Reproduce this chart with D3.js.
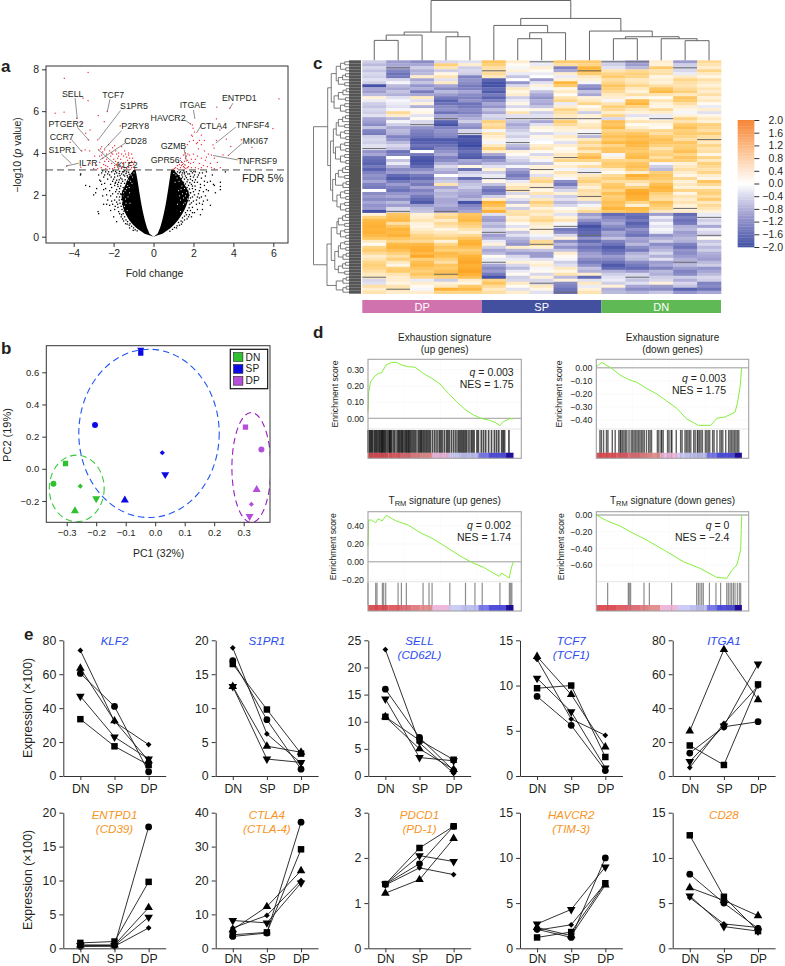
<!DOCTYPE html>
<html><head><meta charset="utf-8">
<script src="https://cdn.jsdelivr.net/npm/d3@7/dist/d3.min.js"></script>
<style>
html,body{margin:0;padding:0;background:#fff}
svg{display:block}
text{font-family:"Liberation Sans",Arial,sans-serif;fill:#231f20}
.domain,.tick line{stroke:#333}
</style></head><body>
<svg id="c" width="785" height="966"></svg>
<script>
const _ = null;
// ---------- panel a: volcano ----------
const fdrLine = 3.19;
const denseY      = [0,.1,.3,.6,1,1.5,2,2.5,3,3.19];
const denseLeftIn = [0,-.15,-.27,-.38,-.49,-.6,-.69,-.77,-.86,-.9];
const denseLeftOut= [0,-.33,-.68,-1.05,-1.35,-1.55,-1.6,-1.4,-1.15,-1.0];
const denseRightIn= [0,.15,.27,.38,.49,.6,.69,.77,.85,.88];
const denseRightOut=[0,.33,.68,1.05,1.38,1.65,1.78,1.55,1.2,1.0];
const gapPoints=[[-1.5,1.95],[-1.42,2.2],[-1.3,2.45],[-1.55,1.7],[-1.25,2.7],[-1.12,2.95],[-1.38,1.6],[-1.32,1.25],[-1.2,2.1],[-1.45,1.45],[-1.28,1.9],[-1.08,2.55],[-.98,3.05],[-1.35,2.3],[-1.18,1.6],[-1.5,2.1],[-1.22,2.35],[-1.05,2.85],[-1.4,1.8],[-1.15,2.65],
[1.6,1.95],[1.7,1.8],[1.5,1.55],[1.55,2.3],[1.42,2.42],[1.28,2.65],[1.12,2.95],[1.65,2.1],[1.35,1.75],[1.45,2.05],[1.25,2.2],[1.08,2.6],[1.35,1.2],[1.5,1.85],[1.2,1.55],[1.38,2.25],[1.02,3.02],[1.18,2.8],[1.58,1.62],[1.3,1.95]];
const blackPoints = [[-2.78,1.2],[-2.75,1.1],[-3,2.0],[-3.4,2.45],[-3.2,2.4],[-2.9,2.1],[-2.85,2.3],[-2.7,2.7],[-2.75,2.95],[-2.6,3.05],[-2.5,2.85],[-2.45,2.55],[-2.4,2.3],[-2.55,1.95],[-2.35,2.0],[-2.3,1.75],[-2.2,1.5],[-2.15,1.25],[-2.0,.95],[-1.85,.72],[-2.3,2.75],[-2.2,2.95],[-2.1,3.1],[-2.25,3.1],[-2.05,2.65],[-1.95,2.85],[-1.85,3.05],[-2.1,2.35],[-1.95,2.45],[-1.9,2.15],[-2.05,2.05],[-1.95,1.75],[-1.85,1.9],[-1.8,1.55],[-2.05,1.55],[-1.95,1.3],[-1.75,1.2],[-1.7,2.3],[-1.75,2.6],[-1.65,2.8],[-1.6,3.0],[-1.7,3.12],[-1.5,3.1],[-1.45,2.9],[-1.55,2.65],[-1.72,1.75],[-1.65,2.05],[-1.45,3.15],[-1.35,3.1],[-1.3,2.85],[-1.9,2.6],[-2.6,2.5],[-3.65,3.0],[-3.66,2.95],[-1.6,1.05],[-1.55,.85],[-1.4,.62],
[-.82,.28],[-.92,.33],[-1.0,.42],[-1.1,.5],[-1.18,.62],[-1.22,.55],[-1.3,.72],[-1.38,.8],[-1.45,.95],[-1.52,1.1],[-1.48,1.22],[-1.58,1.3],[-1.62,1.45],[-1.55,1.55],[-1.68,1.6],[-1.5,1.7],[-1.6,1.78],[-1.7,1.9],[-1.52,1.95],[-1.62,2.02],[-1.78,2.05],[-1.45,2.1],[-1.55,2.18],[-1.72,2.15],[-1.85,2.25],[-1.42,2.3],[-1.52,2.35],[-1.65,2.42],[-1.78,2.4],[-1.35,2.48],[-1.45,2.55],[-1.62,2.55],[-1.8,2.5],[-1.92,2.55],[-1.32,2.62],[-1.42,2.72],[-1.58,2.75],[-1.72,2.72],[-1.85,2.7],[-2.0,2.75],[-1.25,2.78],[-1.32,2.92],[-1.5,2.95],[-1.68,2.92],[-1.8,2.9],[-1.95,3.0],[-2.12,2.85],[-1.22,2.98],[-1.25,3.08],[-1.38,3.02],[-1.55,3.1],[-1.72,3.02],[-1.9,3.12],[-2.02,3.15],[-2.3,3.0],[-2.4,3.1],[-2.55,3.15],[-2.15,2.5],[-2.2,2.2],[-2.15,1.95],[-2.1,1.7],[-1.85,1.65],[-1.92,1.45],[-1.78,1.4],[-1.7,1.1],[-1.62,.95],[-1.5,.75],[-1.32,.6],[-1.2,.42],[-1.02,.3],[-2.45,2.95],[-2.65,2.65],[-2.5,2.25],[-2.35,1.55],[-2.5,1.55],
[1.2,3.1],[1.35,3.1],[1.5,3.15],[1.65,3.1],[1.8,3.0],[1.6,2.9],[1.45,2.85],[1.95,3.05],[2.1,3.1],[2.3,3.05],[2.0,2.85],[1.85,2.75],[2.2,2.85],[2.4,2.8],[2.6,2.9],[2.7,2.6],[2.85,2.65],[3.0,2.5],[3.35,2.6],[3.35,2.4],[3.35,2.25],[3.1,2.1],[3.05,2.45],[2.75,2.2],[2.55,2.45],[2.35,2.5],[2.2,2.6],[2.05,2.6],[1.9,2.5],[2.5,2.15],[2.3,2.2],[2.1,2.25],[1.95,2.3],[1.85,2.1],[2.6,1.95],[2.4,1.9],[2.2,1.9],[2.05,2.0],[2.3,1.6],[2.15,1.55],[2.5,1.7],[2.0,1.7],[1.95,1.4],[2.2,1.3],[2.05,1.15],[1.85,1.25],[1.75,.95],[1.9,.95],[1.55,.8],[1.65,1.05],[1.4,.6],[2.7,1.75],[2.85,1.5],[2.45,1.3],[2.35,1.05],[1.45,3.05],[1.55,3.0],[1.05,3.15],[3.6,3.1],[2.95,2.95],
[.82,.26],[.95,.35],[1.05,.44],[1.18,.52],[1.25,.68],[1.38,.75],[1.45,.9],[1.55,.98],[1.6,1.15],[1.7,1.25],[1.78,1.38],[1.82,1.55],[1.9,1.62],[1.78,1.72],[1.85,1.85],[1.95,1.9],[1.78,1.98],[1.85,2.1],[1.72,2.18],[2,2.15],[1.8,2.28],[1.68,2.35],[1.95,2.42],[1.75,2.45],[1.6,2.52],[1.82,2.58],[2.08,2.42],[1.68,2.62],[1.5,2.6],[1.95,2.68],[2.1,2.72],[1.72,2.72],[1.55,2.75],[1.4,2.78],[1.85,2.88],[1.65,2.82],[1.42,2.95],[1.28,2.92],[2.05,2.95],[2.25,2.95],[1.72,3],[1.55,3.08],[1.3,3.05],[1.88,3.12],[2.02,3.12],[2.45,3.05],[2.65,3.1],[2.55,2.65],[2.35,2.35],[2.65,2.25],[2.25,2.05],[2.45,1.55],[2.3,1.85],[1.95,1.15],[1.8,1.05],[1.68,.85],[1.45,.7],[1.3,.55],[1.15,.42],[2.15,1.75]];
const redPoints = [[-4.47,7.57],[-3.28,7.85],[-4.93,5.9],[-4.48,5.95],[-3.53,6.62],[-3.28,6.5],[-2.32,5.98],[-2.77,5.79],[-3.85,5.66],[-2.47,5.5],[-1.67,5.3],[-3.6,5.42],[-3.4,4.94],[-3.18,5.1],[-3.27,4.63],[-2.8,4.63],[-4.18,4.51],[-3.6,4.11],[-3.43,4.15],[-3.2,4.1],[-4.35,3.38],[-3.65,3.32],[-3.18,3.5],[-2.75,4.15],[-2.65,4.2],[-2.55,4.05],[-2.45,4.15],[-2.35,3.95],[-2.25,4.4],[-2.05,4.25],[-1.95,4.35],[-1.85,3.95],[-1.75,4.0],[-1.6,4.3],[-1.45,4.1],[-1.25,4.0],[-1.1,3.95],[-1.05,3.75],[-1.2,3.75],[-1.35,3.8],[-1.5,3.85],[-1.65,3.7],[-1.8,3.75],[-2,3.7],[-2.15,3.85],[-2.35,3.7],[-2.55,3.75],[-2.7,3.55],[-2.5,3.45],[-2.3,3.35],[-2.1,3.5],[-1.95,3.3],[-1.85,3.45],[-1.7,3.35],[-1.55,3.5],[-1.4,3.55],[-1.3,3.35],[-1.2,3.5],[-1.1,3.3],[-1.0,3.45],[-.95,3.6],[-1.45,3.3],[-1.6,3.25],[-1.75,3.25],[-2.2,3.25],[-2.4,3.25],[-2.62,3.3],[-2.8,3.25],[-2.9,3.4],[-3,3.25],[-1.35,3.25],[-1.15,3.22],[-2.05,3.25],[-2.95,3.85],[-2.2,4.1],[-1.3,3.65],[-.95,3.25],[-2.6,3.9],[-2.45,3.6],[-2.25,3.6],[-1.9,3.6],[-1.75,3.55],[-1.6,3.95],[-1.4,3.95],[-1.1,3.6],[-1.25,3.9],[-2.05,3.95],[-1.9,4.1],[-2.4,3.4],[-1.95,3.4],[-1.55,3.35],[-1.15,3.4],[-1.05,3.55],[-2.7,3.85],[-2.6,4.3],[-2.1,4.0],[-1.75,3.85],
[6.28,6.59],[3.17,6.19],[3.82,6.14],[3.15,5.63],[5.98,5.17],[1.85,5.39],[1.95,5.34],[3.32,5.1],[4.4,4.63],[4.93,4.27],[3.87,4.31],[3.75,3.89],[3.48,3.91],[2.98,4.39],[3.03,4.23],[3.65,4.66],[3.15,4.6],[1.98,5.18],[2.05,5.0],[1.9,4.85],[2.4,4.85],[2.55,4.6],[2.3,4.6],[2.15,4.45],[1.95,4.8],[1.8,4.55],[2.0,4.6],[1.7,4.4],[2.25,4.2],[2.55,4.1],[2.75,3.95],[2.9,3.9],[3.05,3.75],[3.2,3.55],[3.35,3.3],[1.6,4.0],[1.65,3.85],[1.5,3.9],[1.8,3.9],[2,3.95],[2.2,3.85],[2.4,3.75],[2.6,3.65],[1.35,3.75],[1.25,3.55],[1.4,3.55],[1.55,3.6],[1.7,3.65],[1.85,3.5],[2,3.55],[2.3,3.5],[2.5,3.4],[2.7,3.35],[2.9,3.3],[1.1,3.3],[1.2,3.25],[1.35,3.3],[1.5,3.35],[1.62,3.25],[1.75,3.35],[1.9,3.3],[2.1,3.3],[2.25,3.25],[1.05,3.25],[.98,3.22],[1.45,3.45],[1.58,3.42],[3.05,3.25],[2.85,3.5],[1.72,3.95],[1.55,3.3],[1.4,3.4],[1.3,3.45],[1.6,3.75],[1.75,3.55],[1.9,3.7],[1.7,3.3],[1.2,3.4],[2.1,3.7],[2.4,3.3],[2.65,3.8],[2.2,4.5],[2.4,4.4]];
const volcanoLabels = ["SELL","TCF7","S1PR5","P2RY8","CD28","PTGER2","CCR7","S1PR1","IL7R","KLF2","GPR56","GZMB","HAVCR2","ITGAE","CTLA4","ENTPD1","TNFSF4","MKI67","TNFRSF9"];
const labelX = [-4.05,-2.02,-.98,-.92,-.9,-4.38,-4.6,-4.57,-3.27,-1.32,.58,1,.73,1.97,3,4.3,4.97,5.1,5.2];
const labelY = [6.8,6.78,6.24,5.27,4.55,5.39,4.78,4.15,3.51,3.41,3.67,4.35,5.68,6.31,5.31,6.62,5.33,4.58,3.62];
const leaderFromX=[-3.93,-2.18,-1.65,-1.6,-1.43,-3.82,-4.1,-4.62,-3.75,-1.77,1.32,1.53,1.57,2,2.4,3.98,4.12,4.45,4.23];
const leaderFromY=[6.62,6.57,6.03,5.07,4.47,5.23,4.63,3.95,3.51,3.35,3.67,4.18,5.58,6.06,5.34,6.38,5.24,4.47,3.67];
const leaderToX=[-3.82,-2.32,-2.75,-2.48,-2.68,-3.22,-3.6,-4.12,-4.38,-2.77,1.57,1.65,1.85,2.07,2.15,3.82,3.12,3.78,2.98];
const leaderToY=[5.63,5.98,4.66,4.18,3.67,4.59,4.07,3.5,3.38,4.15,3.43,3.59,5.39,5.63,4.95,6.14,4.47,3.91,3.88];
// ---------- panel b: PCA ----------
const pcaShapes = ["square","circle","diamond","invert","triangle"];
const pcaDNx=[-.304,-.345,-.254,-.2,-.272], pcaDNy=[.033,-.093,-.108,-.185,-.261];
const pcaSPx=[-.049,-.204,.024,.034,-.103], pcaSPy=[.72,.272,.1,-.035,-.195];
const pcaDPx=[.306,.36,.326,.32,.344],      pcaDPy=[.259,.12,-.22,-.295,-.129];
const pcaGroups=["DN","SP","DP"];
const pcaColors=["#2fc12f","#0a0ae6","#b44fdc"];
const ellipseColors=["#39c939","#1f55f0","#9a1fc4"];
const ellipseCx=[-.266,-.021,.326], ellipseCy=[-.122,.22,.008], ellipseRx=[.093,.238,.066], ellipseRy=[.207,.523,.342];
// ---------- panel c: heatmap (samples, top to bottom) ----------
const DP1=[-.5,-.7,-.4,-.6,-.4,-.5,-.3,-.5,-1.9,-.9,-1,-.7,.3,-.2,-.5,-.6,-.4,-.5,-.3,-.9,-1,-1.2,-.6,-1.3,-1.4,-.5,-.4,-.5,-.3,_,-1.1,-.9,-1.5,-1.6,-1.7,-1.4,-1.7,-1.3,-1.1,-1.2,-.9,-1.3,-1.4,0,-1.2,-1,-1.2,-.9,-1.1,-1,-1.9,.3,1,1.4,1.5,1.6,1.5,1.6,1.4,1.2,.5,.1,.9,1.1,.8,.4,.6,.9,1,.9,.7,.5,_,-.4,-.3,.7,.4,.6];
const DP2=[-1,-.9,_,-1.3,-1.5,-1.4,-.4,-.1,-.7,-.9,-.6,-.8,-.3,-.1,-.2,-.3,-.1,.8,.4,-.7,-.1,-.5,-.9,-.7,-.8,-1.3,-1.1,-.7,-.4,-.6,-1.5,-1.3,0,-.6,-.2,-.8,-1.2,-1,-1.6,-1.8,-1.4,-1,-1.3,-1.5,-1.1,-.9,-1.2,-.7,-1,-.4,_,1.2,1.3,1.4,.7,1.2,1.5,1.4,1.6,1.2,.9,1.4,1.5,1.3,1,.7,1,.5,.2,1,1.1,.6,.4,.4,.2,.6,_,.4];
const DP3=[-1.2,-.9,-.5,-.8,-.7,.4,-.9,-.6,-1.1,-.8,-1.4,-.9,.5,-.3,.3,-.8,.1,.2,-.3,.1,-.4,_,-1.1,-1.3,-1.4,-1.5,-1.8,-1.7,-1.5,-1.7,0,-1.4,-1.8,-1.9,-1.8,-1.6,-1.2,-.9,-1.4,-1.6,-1.2,-1.4,-.9,-1.3,-1.1,-1.4,-1.6,-1.8,-1,-.7,-.6,.3,.4,.6,.3,.2,.4,.6,.9,1,.8,1.4,1.6,1.7,1.4,1.8,1,1.3,1.4,1.2,1,1.2,.9,-.2,.4,.1,-.1,.4];
const DP4=[-.4,1,.6,-.5,.2,.6,-.3,.5,-.9,-1.2,-.7,-1,-1.4,-1.7,-1.5,-1.2,-1.1,-1.5,-.9,_,-1.7,-1.9,-1.3,-1.1,-1.2,-1.3,-1.8,-1.7,-1.5,-1.3,-1.1,-.9,-1.3,-1.2,-.8,-.4,-.7,-.9,0,-.7,-.5,.6,-.9,-.6,-.8,-.7,-.9,-.9,-.8,-1,_,.7,.9,.4,.8,.6,.2,.5,.7,1,.3,.9,1.2,1,1.4,1.3,1,.7,1.2,1.1,1.3,_,1,-.5,.3,.5,1.6,.9];
const DP5=[-.3,.4,-.5,-.4,-.5,-1.3,-1.1,-1.2,-1.4,-1.3,-.9,-1.2,-1.3,-1.1,-1.5,-1.4,-1.2,-1.3,-1,-.8,-.5,-1,-1.2,-.4,_,-1.9,-1.8,-1.9,-2,-1.7,-1.5,-1.7,-1.8,-.9,-1,.2,-1.5,-.5,-.3,-1.6,-.8,-.6,-.5,-.8,-.9,-1,-.7,-1.9,-1.3,-1.1,-.9,1.2,1.3,1.4,1.1,.9,.6,.3,.8,1.2,1.5,1.6,1.3,1,1.2,1.5,1.7,1.8,1.6,1.7,1.9,1.6,1.3,.4,.2,1.1,1.4,.9];
const SP1=[1.2,1,.7,_,.8,.5,-1.7,-1.9,-1.9,-1.6,-1.8,-1.4,-1.7,-1.3,-.9,-1.1,-.6,-.9,-.4,-.5,1,.7,.9,-.1,.6,.4,.2,-.1,.5,1,.4,-.9,-1.4,-1.1,-.7,-.3,.3,-.5,-.2,_,.2,-.6,-1.2,-1.5,-1.3,-.5,.4,1.5,1.3,.9,1.6,-.3,-.9,-1,-.6,-.8,-.4,_,-1,-.8,-.2,.3,-.5,-.9,-.7,.1,-.2,_,-.9,-1.2,-1,-1.4,-1.9,.9,1.2,.8,.5,.7];
const SP2=[.4,.1,-.1,.3,-.2,-.6,0,-1.1,-.4,.5,.2,.4,-.5,-.2,.2,-.4,.1,.6,-.3,_,-.6,-.9,-.7,-.5,-.3,-.5,-.2,_,-.7,-.9,.3,.1,-.3,-.5,-.7,-.1,-.9,-1.2,-1.4,-1.1,-.2,.3,.6,_,-.4,.2,-.3,-.7,.2,-.5,.6,.7,.3,.5,.1,-.3,.2,-.6,-.3,-.7,-.9,-1.1,.4,-.7,-1,-.4,-.2,.3,-.4,-.7,-.2,.1,-.5,-.4,.5,.1,-.3,.4];
const SP3=[_,-.2,.4,.1,-.2,0,-1,-.3,.3,-.1,-.6,-.9,-1.1,-.8,-.9,-.6,.2,-.5,-.3,_,-.9,-.3,.3,.1,-.4,.2,-.1,0,.4,.6,.1,-.4,.3,-.1,-.6,.3,_,.2,-.3,.7,.9,.4,_,.2,.6,-.3,.5,1,.7,.3,.6,.4,.7,.9,.5,.3,_,.3,-.1,-.3,.8,_,.3,-.6,-1,-1,-.3,.2,.4,-.1,.1,-.4,.3,-.4,_,.5,.2,-.3];
const SP4=[1.1,.7,-1.3,-.9,.4,-.2,.3,1.5,1.1,.2,.5,.1,.6,.9,-.2,.4,.9,.7,.5,_,1.1,.8,.4,.3,-.2,.5,.2,-.3,.4,.1,.2,.5,_,.9,.2,.4,-.1,.6,.3,-.1,-1.2,-1.4,-.8,-.4,.3,-.5,-.3,-.7,-.4,.1,.3,-.3,.3,.6,-.1,_,-1.4,-1.2,-.4,.3,-1.2,-.7,-1.1,-.6,.4,.1,-.1,-.5,-.3,.5,.2,.6,-.7,.3,-1.2,-1.3,-1.5,_];
const SP5=[1.1,.9,1.5,_,1.1,.5,.3,-.1,-1.1,-1.3,-.6,-.9,.3,.5,.9,.1,.4,-.5,.3,_,.2,.5,.6,-.1,_,-.7,.5,.9,.6,1,.5,1.1,1.4,.9,.2,.7,-.2,_,.5,.8,1,.6,.3,.7,.6,_,.5,-.5,-.1,.4,.8,-1,-.7,-1.1,-1.5,-1.9,-1.7,-1.6,_,-1.1,-1.6,-1.2,-1.5,-1.3,-1,-.9,-1.2,-1.4,-1.1,-.6,-.8,.4,-1.6,-.3,.5,-.2,.3,.6];
const DN1=[_,-.5,-.3,.6,.9,1.1,.7,.9,1.2,1,.8,.5,.4,-.1,.6,1,.8,.4,.9,-.4,1.3,1.2,1.4,.9,1.1,1.3,1.1,1.4,.9,1.2,1.2,-.1,.3,.9,1.1,1,.4,.1,.8,1,.7,1.1,1.2,.9,1.3,1,1.1,1.3,1.2,1.5,1.1,-1.6,-1.3,-1.1,-.9,-1.2,-1.4,-.9,-1,-.6,-1.3,-1.5,-1.8,-1.6,-1.4,-1,-1.2,-1.5,-1.8,-1.6,-.8,-.5,-.3,-.2,-.5,.3,-.8,-.7];
const DN2=[_,-1,-.7,.8,1,.9,.5,.6,.9,.5,.3,.7,.2,1.3,1.5,.9,.5,.3,-.3,.2,.6,.1,.4,.8,1.2,1.4,1.3,1.5,1.4,1.2,1.1,1.3,1.4,.9,1.2,1.3,1.1,.4,1.6,1.3,.7,.4,1,1.7,1.8,1.6,1.5,.9,.3,1.4,1.3,-1.5,-1.6,-1.4,-1.7,-1.5,-1.1,-1.3,-1.5,-.9,-1,-.7,-1.2,-1.4,-.8,-.6,-.7,-1.2,-1.4,-1.6,-1,-.4,_,-.6,-.3,-.9,-1.2,-.8];
const DN3=[.4,.3,1.1,.6,.7,.2,.4,.3,.7,1.2,1.4,.6,.1,.6,.3,.2,.8,.4,-.2,_,.5,.2,.1,.9,.7,1.1,1.3,1.2,1,.6,.9,1,.7,1.1,-.1,-.5,-.7,1,1.2,1.1,.9,1.3,1.5,1.4,1,.8,.7,1.3,1.1,.9,.5,-1,-.2,-.5,-.1,-.3,-.1,-.2,-1.1,-.8,-.5,-1.2,-.9,-.7,-.4,-.8,-.3,-1,-.9,-1.3,-.7,-.8,-.5,-.4,.3,-1,-1.2,-.6];
const DN4=[-1,-.5,_,-.4,-.2,.5,.9,.7,.6,.8,1,.5,1.2,1.1,.7,.4,.2,-.1,.3,.9,.6,1.1,1.3,1,1.1,.9,.7,1.2,1,1.1,1.3,.9,1.2,1,.3,.5,.7,.4,.2,.8,.3,.5,.3,.9,.2,.6,.4,.6,.3,_,.4,-1.6,-1.3,-1.5,-1.4,-.8,-.7,-1,-.9,-.7,-.8,-1.3,-1.5,-1.1,-1.2,-1,-.8,_,-.7,-1,-1.3,-1.2,-.5,-.8,-.4,-.6,-1.7,-1.1];
const DN5=[.8,.6,.4,.9,.5,.2,.7,.5,.3,.6,.4,.7,.3,.5,.1,-.2,.4,-.3,.2,.5,.3,1,.9,.7,1.1,.7,_,.5,.9,.6,.7,.2,.9,.5,1,.8,.6,.9,.4,.2,1.2,.8,.3,.9,1,.7,1.1,.5,.8,.6,.3,-.2,_,-.5,-.3,-.9,-.2,-.4,_,.1,-.6,-.4,-.7,-.5,-.8,-.9,-1,-.7,-.5,-1.1,-.9,-.7,-.4,-.5,-1.3,-1.2,-1.5,-.9];
const heatSamples=[DP1,DP2,DP3,DP4,DP5,SP1,SP2,SP3,SP4,SP5,DN1,DN2,DN3,DN4,DN5];
const heatGroups=["DP","SP","DN"];
const heatGroupColors=["#d072ae","#42509f","#5fba55"];
const colorTicks=[2,1.6,1.2,.8,.4,0,-.4,-.8,-1.2,-1.6,-2];
const colTree=[1,[.472,[.422,[.333,0,0],0],[.394,0,0]],[.7,[.583,0,[.461,[.361,0,0],0]],[.489,0,[.394,[.361,0,0],[.361,0,[.328,0,0]]]]]];
const p2=[.1,0,0],p3=[.17,[.08,0,0],0],p4=[.24,[.12,0,0],[.09,0,0]],p5=[.3,[.18,[.1,0,0],0],[.12,0,0]];
const rowTree=[1,[.6,[.5,[.36,p4,p5],[.42,[.3,p3,p2],p4]],[.52,[.44,[.36,p5,p4],[.38,p4,p4]],[.46,[.38,p5,p3],[.34,p4,p4]]]],[.62,[.5,[.34,p5,p4],[.4,[.3,p4,p3],p5]],[.36,p3,p3]]];
// ---------- panel d: GSEA ----------
const gseaRank1=[0,.5,1.8,4.8,7.1,9.4,12.4,16.3,19.7,23.2,27.8,32.3,38.1,43.8,49.5,55.3,61,66.7,72.5,78.2,82.8,87.4,90.8,93.1,95.9,97.7,100];
const gseaES1=[.04,.164,.226,.261,.277,.281,.329,.345,.345,.329,.318,.316,.277,.247,.212,.154,.103,.055,.021,-.002,-.01,-.025,-.045,-.021,-.01,-.002,-.004];
const gseaRank2=[0,1.4,3.7,5.96,10.6,16.3,22,27.8,34.6,41.5,48.4,55.3,62.2,70.2,78.7,82.8,88.5,95.4,97,98.9,100];
const gseaES2=[.008,.02,.04,.025,-.005,-.056,-.089,-.112,-.158,-.2,-.255,-.31,-.392,-.441,-.441,-.387,-.377,-.341,-.273,-.145,0];
const gseaRank3=[0,.5,2.3,5.3,6.9,9.7,12.6,19.5,27.6,36.8,44.8,54,63.2,72.4,79.3,85.1,90.3,92,97.2,98.6,100];
const gseaES3=[.17,.467,.467,.437,.481,.456,.519,.456,.411,.319,.256,.163,.067,-.015,-.059,-.115,-.163,-.126,-.181,-.07,0];
const gseaRank4=[0,7.1,16.3,23.2,34.6,48.4,59.9,71.3,82.8,89.7,93.1,96.6,99.3,100];
const gseaES4=[0,-.068,-.132,-.2,-.3,-.44,-.56,-.64,-.748,-.76,-.668,-.6,-.42,0];
const gseaHits1=[0,1,1.6,2.5,3,4.2,5,5.8,6.5,7.5,8.2,9,9.6,10.2,10.8,11.6,12.4,13.5,14.5,15,15.6,16.3,17.5,18.5,20,21,21.6,22.5,23.3,24,25,26,26.6,27.5,28.2,29,30,31,32,33,34.5,35.5,36.3,37,38,39,40,41,42,43,44.5,46,47.5,49,50,51,52.5,54,55,56,57.5,59,60.5,62,63,64,65,66,67,68,69.5,71,72,73,75,76,78,79.5,81,83,85,87,88.5,90,92,93,94,97];
const gseaHits2=[2.5,3.5,5,7,8,11,13,15.5,16.5,17,18,19,20,21,22.5,24,25,26,27,28,29,30,31,32,33,34.5,36,37,38,42,43,44.5,45,46,49,50,51.5,52,55,58,59,61,62,63,64,65,67,68,69.5,70,71,72,73,75,76,77,78,80,81,83,85,86,87,89,91,92,93,94,95,96,97,98];
const gseaHits3=[0,5.3,6.2,9.9,10.8,12.2,20.7,23,26.4,37.9,42,44.1,56.3,67.1,73.6,78.6,90.8,97.3,98.2,99];
const gseaHits4=[7.8,22,22.7,23.6,32.8,36.5,51.8,69,70.2,71.3,72.5,73.6,77.8,82.3,85.5,89.7,90.8,92,93.1,94.3,95.4,97,98.4,99.3];
const bandEdges=[0,14,22,30,36,44,56,64,76,83,95,100];
const bandColors=["#dd5158","#e05e66","#df6f78","#e08182","#e49090","#ecb8dc","#ccccf6","#c0c0f0","#7a7aea","#5050dc","#200f9e"];
const gseaTicks1=[.3,.2,.1,0],gseaTicks2=[0,-.1,-.2,-.3,-.4],gseaTicks3=[.4,.2,0,-.2],gseaTicks4=[0,-.2,-.4,-.6];
// ---------- panel e: expression ----------
const exprSamples=["DN","SP","DP"];
const shapes=["circle","square","triangle","invert","diamond"];
const geneNames=[["KLF2"],["S1PR1"],["SELL","(CD62L)"],["TCF7","(TCF1)"],["ITGA1"],["ENTPD1","(CD39)"],["CTLA4","(CTLA-4)"],["PDCD1","(PD-1)"],["HAVCR2","(TIM-3)"],["CD28"]];
const geneMax=[80,20,25,15,80,20,40,3,15,15];
const geneTicks=[[0,20,40,60,80],[0,5,10,15,20],[0,5,10,15,20,25],[0,5,10,15],[0,20,40,60,80],[0,5,10,15,20],[0,10,20,30,40],[0,1,2,3],[0,5,10,15],[0,5,10,15]];
const KLF2=[[60.5,41,2.5],[33.5,17.5,6.5],[63.5,32.5,9],[47,23,10],[74,32,18.5]];
const S1PR1=[[17,8.3,1],[16.5,9.8,3.3],[13.2,4.4,3.5],[13.2,2.5,2],[18.9,6.2,1.9]];
const SELL=[[16,7.1,1],[10.9,6.6,3],[10.9,5,1.2],[14.2,3.4,2.8],[23.3,6.1,.5]];
const TCF7=[[8.8,5.6,.6],[9.7,10,2.1],[13.2,9,3.2],[10.8,7.1,.9],[12.9,6.3,4.5]];
const ITGA1=[[13.5,29,32],[18,6.5,54],[26.5,74.5,45],[8.5,29.5,66],[5,31,53]];
const ENTPD1=[[.3,.4,17.9],[.8,1,9.8],[.5,.5,6],[.4,.4,4.6],[.3,.3,3]];
const CTLA4=[[3.5,4.5,37.2],[4,4.7,29.2],[5.5,12.3,22.9],[8.2,7.5,19.3],[6,9.7,20]];
const PDCD1=[[1.42,1.87,2.7],[1.42,2.22,2.7],[1.22,1.52,2.43],[1.42,2.05,1.92],[1.4,1.78,1.63]];
const HAVCR2=[[2.1,1.2,10],[1.2,1.8,7.2],[2.3,1.4,7],[2.7,4.3,9],[2,2.6,7.2]];
const CD28=[[8.2,5,2.2],[12.5,5.7,1.9],[6.7,5.3,3.6],[5.8,2.4,1.9],[5.6,2.7,2.3]];
const geneData=[KLF2,S1PR1,SELL,TCF7,ITGA1,ENTPD1,CTLA4,PDCD1,HAVCR2,CD28];

const svg=d3.select("#c");
function label(t,x,y,o={}){
  const s=svg.append("text").attr("x",x).attr("y",y).attr("font-size",o.size||11)
    .attr("text-anchor",o.anchor||"middle").attr("dominant-baseline","central").text(t);
  if(o.rotate) s.attr("transform",`rotate(-90 ${x} ${y})`);
  if(o.weight) s.attr("font-weight",o.weight);
  if(o.italic) s.attr("font-style","italic");
  if(o.fill) s.style("fill",o.fill);
  return s;
}
function symbolPath(name,size){
  const type={circle:d3.symbolCircle,square:d3.symbolSquare,triangle:d3.symbolTriangle,invert:d3.symbolTriangle,diamond:d3.symbolDiamond2}[name];
  return d3.symbol().type(type).size(size)();
}
function placeSym(sel,name,x,y,size,fill){
  sel.append("path").attr("d",symbolPath(name,size)).attr("fill",fill)
   .attr("transform",`translate(${x},${y})${name==="invert"?" rotate(180)":""}`);
}
[["a",1,66],["b",1,348],["c",313,63],["d",313,332],["e",24,634]].forEach(d=>label(d[0],d[1],d[2],{size:17,weight:"bold",anchor:"start"}));

// ---- panel a
(function(){
  const L=46,R=288,T=66,B=243;
  const x=d3.scaleLinear().domain([-4,6]).range([73.7,273.3]);
  const y=d3.scaleLinear().domain([0,8]).range([236.7,69.3]);
  const g=svg.append("g");
  const dense=d3.range(denseY.length);
  const lArea=d3.area().x0(i=>x(denseLeftOut[i])).x1(i=>x(denseLeftIn[i])).y(i=>y(denseY[i])).curve(d3.curveMonotoneY);
  const rArea=d3.area().x0(i=>x(denseRightIn[i])).x1(i=>x(denseRightOut[i])).y(i=>y(denseY[i])).curve(d3.curveMonotoneY);
  g.append("path").attr("d",lArea(dense)).attr("fill","#000");
  g.append("path").attr("d",rArea(dense)).attr("fill","#000");
  g.selectAll(".gp").data(gapPoints).join("rect").attr("x",d=>x(d[0])-.5).attr("y",d=>y(d[1])-.5).attr("width",1).attr("height",1).attr("fill","#fff");
  g.selectAll(".bp").data(blackPoints).join("rect").attr("x",d=>x(d[0])-.65).attr("y",d=>y(d[1])-.65).attr("width",1.3).attr("height",1.3).attr("fill","#000");
  g.selectAll(".rp").data(redPoints).join("rect").attr("x",d=>x(d[0])-.6).attr("y",d=>y(d[1])-.6).attr("width",1.2).attr("height",1.2).attr("fill","#f0303a");
  g.append("line").attr("x1",L).attr("x2",R).attr("y1",y(fdrLine)).attr("y2",y(fdrLine)).attr("stroke","#333").attr("stroke-width",.9).attr("stroke-dasharray","7 4");
  volcanoLabels.forEach((t,i)=>{
    g.append("line").attr("x1",x(leaderFromX[i])).attr("y1",y(leaderFromY[i])).attr("x2",x(leaderToX[i])).attr("y2",y(leaderToY[i])).attr("stroke","#444").attr("stroke-width",.6);
    label(t,x(labelX[i]),y(labelY[i]),{size:8.8});
  });
  label("FDR 5%",x(5.47),y(2.8),{size:11});
  svg.append("rect").attr("x",L).attr("y",T).attr("width",R-L).attr("height",B-T).attr("fill","none").attr("stroke","#333");
  const ax=svg.append("g").attr("transform",`translate(0,${B})`).call(d3.axisBottom(x).tickValues([-4,-2,0,2,4,6]).tickSize(4).tickSizeOuter(0));
  const ay=svg.append("g").attr("transform",`translate(${L},0)`).call(d3.axisLeft(y).tickValues([0,2,4,6,8]).tickSize(4).tickSizeOuter(0));
  [ax,ay].forEach(a=>{a.select(".domain").remove();a.selectAll("text").attr("font-size",10.5).style("font-family","Liberation Sans");});
  label("Fold change",x(0)+1,273,{size:10.5});
  const yl=label("",17,155,{size:10.5,rotate:true});
  yl.append("tspan").text("−log10 (");yl.append("tspan").attr("font-style","italic").text("p");yl.append("tspan").text(" value)");
})();

// ---- panel b
(function(){
  const L=46.3,R=270,T=345.7,B=522.3;
  const x=d3.scaleLinear().domain([-.3,.3]).range([66.7,243.7]);
  const y=d3.scaleLinear().domain([-.2,.6]).range([501,372.3]);
  svg.append("clipPath").attr("id","pc").append("rect").attr("x",L).attr("y",T).attr("width",R-L).attr("height",B-T);
  const g=svg.append("g").attr("clip-path","url(#pc)");
  pcaGroups.forEach((n,i)=>{
    g.append("ellipse").attr("cx",x(ellipseCx[i])).attr("cy",y(ellipseCy[i]))
     .attr("rx",x(ellipseRx[i])-x(0)).attr("ry",y(0)-y(ellipseRy[i]))
     .attr("fill","none").attr("stroke",ellipseColors[i]).attr("stroke-width",1.1).attr("stroke-dasharray","6.5 4");
  });
  [[pcaDNx,pcaDNy],[pcaSPx,pcaSPy],[pcaDPx,pcaDPy]].forEach((s,i)=>{
    pcaShapes.forEach((sh,j)=>placeSym(g,sh,x(s[0][j]),y(s[1][j]),sh==="diamond"?17:28,pcaColors[i]));
  });
  placeSym(g,"invert",x(-.049),y(.74),22,pcaColors[1]);
  svg.append("rect").attr("x",L).attr("y",T).attr("width",R-L).attr("height",B-T).attr("fill","none").attr("stroke","#333");
  const ax=svg.append("g").attr("transform",`translate(0,${B})`).call(d3.axisBottom(x).tickValues([-.3,-.2,-.1,0,.1,.2,.3]).tickFormat(d3.format(".1f")).tickSize(4).tickSizeOuter(0));
  const ay=svg.append("g").attr("transform",`translate(${L},0)`).call(d3.axisLeft(y).tickValues([-.2,0,.2,.4,.6]).tickFormat(d3.format(".1f")).tickSize(4).tickSizeOuter(0));
  [ax,ay].forEach(a=>{a.select(".domain").remove();a.selectAll("text").attr("font-size",9.5).style("font-family","Liberation Sans");});
  label("PC1 (32%)",158.7,552.7,{size:10.5});
  label("PC2 (19%)",7,435,{size:11,rotate:true});
  const lg=svg.append("g");
  lg.append("rect").attr("x",230.3).attr("y",349.3).attr("width",37.4).attr("height",39.4).attr("fill","#fff").attr("stroke","#111").attr("stroke-width",1.2);
  pcaGroups.forEach((n,i)=>{
    const cy=357+i*11.9;
    lg.append("rect").attr("x",233.5).attr("y",cy-4.4).attr("width",9.4).attr("height",8.8).attr("fill",pcaColors[i]).attr("stroke","#222").attr("stroke-width",.6);
    label(n,245.6,cy,{size:10.2,anchor:"start"});
  });
})();

// ---- panel c
(function(){
  const L=362.3,R=721,T=60.3,B=293.7;
  const color=d3.scaleLinear().domain([-2,-1,0,.5,1,1.5,2]).range(["#3c4aa2","#9d9ccf","#ffffff","#ffe9c0","#ffd07a","#feb53a","#fca020"]);
  const barColor=d3.scaleLinear().domain([-2,-1,0,1,2]).range(["#3f4fa3","#9d9ccf","#ffffff","#fdc594","#f58232"]);
  const nRows=heatSamples[0].length;
  const x=d3.scaleBand().domain(d3.range(heatSamples.length)).range([L,R]);
  const y=d3.scaleBand().domain(d3.range(nRows)).range([T,B]);
  const g=svg.append("g");
  heatSamples.forEach((col,c)=>{
    col.forEach((v,r)=>{
      const near=v===null?(r>0&&col[r-1]!==null?col[r-1]:(col[r+1]===null?0:col[r+1])):v;
      g.append("rect").attr("x",x(c)).attr("y",y(r)).attr("width",x.bandwidth()+.3).attr("height",y.bandwidth()+.3).attr("fill",color(near));
      if(v===null) g.append("rect").attr("x",x(c)).attr("y",y(r)+y.bandwidth()*.33).attr("width",x.bandwidth()+.3).attr("height",1).attr("fill","#6b6b6b");
    });
  });
  // column dendrogram
  const h=d3.scaleLinear().domain([0,1]).range([60.3,.5]);
  const rootC=d3.hierarchy(colTree,d=>Array.isArray(d)?d.slice(1):null);
  rootC.leaves().forEach((l,i)=>{l.px=x(i)+x.bandwidth()/2;});
  rootC.eachAfter(n=>{n.ph=Array.isArray(n.data)?n.data[0]:0;if(n.children)n.px=d3.mean(n.children,c=>c.px);});
  const tg=svg.append("g").attr("fill","none").attr("stroke","#555").attr("stroke-width",.9);
  rootC.descendants().filter(n=>n.children).forEach(n=>{
    const pa=d3.path();
    const [a,b]=n.children;
    pa.moveTo(a.px,h(a.ph));pa.lineTo(a.px,h(n.ph));pa.lineTo(b.px,h(n.ph));pa.lineTo(b.px,h(b.ph));
    tg.append("path").attr("d",pa.toString());
  });
  // row dendrogram
  const hr=d3.scaleLinear().domain([0,1]).range([349,313.5]);
  const rootR=d3.hierarchy(rowTree,d=>Array.isArray(d)?d.slice(1):null);
  rootR.leaves().forEach((l,i)=>{l.py=y(i)+y.bandwidth()/2;});
  rootR.eachAfter(n=>{n.ph=Array.isArray(n.data)?n.data[0]:0;if(n.children)n.py=d3.mean(n.children,c=>c.py);});
  const rg=svg.append("g").attr("fill","none").attr("stroke","#666").attr("stroke-width",.85);
  rootR.descendants().filter(n=>n.children).forEach(n=>{
    const pa=d3.path();
    const [a,b]=n.children;
    pa.moveTo(hr(a.ph),a.py);pa.lineTo(hr(n.ph),a.py);pa.lineTo(hr(n.ph),b.py);pa.lineTo(hr(b.ph),b.py);
    rg.append("path").attr("d",pa.toString());
  });
  rootR.leaves().forEach(l=>{
    rg.append("line").attr("x1",hr(0)).attr("x2",361).attr("y1",l.py).attr("y2",l.py).attr("stroke","#555").attr("stroke-width",2.99);
  });
  // annotation
  heatGroups.forEach((n,i)=>{
    const x0=x(i*5),x1=i===2?R:x((i+1)*5);
    svg.append("rect").attr("x",x0).attr("y",300).attr("width",x1-x0).attr("height",13).attr("fill",heatGroupColors[i]);
    label(n,(x0+x1)/2,306.7,{size:11,fill:"#fff"});
  });
  // colour bar
  const cy=d3.scaleLinear().domain([2,-2]).range([120,247]);
  const cb=svg.append("g");
  d3.range(-2,2,.05).forEach(v=>{
    cb.append("rect").attr("x",737.7).attr("y",cy(v+.05)).attr("width",16.6).attr("height",cy(v)-cy(v+.05)+.3).attr("fill",barColor(v+.025));
  });
  const ac=svg.append("g").attr("transform","translate(754.3,0)").call(d3.axisRight(cy).tickValues(colorTicks).tickFormat(d3.format(".1f")).tickSize(5).tickSizeOuter(0));
  ac.select(".domain").remove();
  ac.selectAll("text").attr("font-size",10.5).attr("text-anchor","end").attr("x",28.7).style("font-family","Liberation Sans");
})();

// ---- panel d
(function(){
  const configs=[
    {L:368,R:521.3,bandEnd:513.3,T:359.3,sep:429,barEnd:452.7,B:458.3,rank:gseaRank1,es:gseaES1,hits:gseaHits1,ticks:gseaTicks1,d:[0,.3],r:[418.3,369.7],op:.7,bw:1.7,labX:335,labY:394,q:"0.003",nes:"1.75",qx:513.7,qy:372,line:"#888"},
    {L:596.3,R:748.7,bandEnd:741.7,T:359.3,sep:429,barEnd:452.7,B:458.3,rank:gseaRank2,es:gseaES2,hits:gseaHits2,ticks:gseaTicks2,d:[-.4,0],r:[420,367.7],op:.62,bw:1.4,labX:559,labY:394,q:"0.003",nes:"1.75",qx:726,qy:378,line:"#bbb"},
    {L:368,R:521.3,bandEnd:513.3,T:511.7,sep:581.7,barEnd:605,B:611,rank:gseaRank3,es:gseaES3,hits:gseaHits3,ticks:gseaTicks3,d:[-.2,.4],r:[579.7,526],op:.45,bw:1.2,labX:332.7,labY:546.7,q:"0.002",nes:"1.74",qx:511,qy:525,line:"#888"},
    {L:596.3,R:748.7,bandEnd:741.7,T:511.7,sep:581.7,barEnd:605,B:611,rank:gseaRank4,es:gseaES4,hits:gseaHits4,ticks:gseaTicks4,d:[-.6,0],r:[565,515],op:.45,bw:1.2,labX:561,labY:546.7,q:"0",nes:"−2.4",qx:729.3,qy:525,line:"#777"}
  ];
  configs.forEach(c=>{
    const x=d3.scaleLinear().domain([0,100]).range([c.L,c.bandEnd]);
    const y=d3.scaleLinear().domain(c.d).range(c.r);
    const g=svg.append("g");
    c.ticks.forEach(t=>g.append("line").attr("x1",c.L).attr("x2",c.R).attr("y1",y(t)).attr("y2",y(t)).attr("stroke","#e8e8e8").attr("stroke-width",.5).attr("stroke-dasharray","1 1"));
    [25,50,75].forEach(t=>g.append("line").attr("x1",x(t)).attr("x2",x(t)).attr("y1",c.T).attr("y2",c.sep).attr("stroke","#eee").attr("stroke-width",.5).attr("stroke-dasharray","1 1"));
    bandColors.forEach((col,i)=>{
      g.append("rect").attr("x",x(bandEdges[i])).attr("y",c.barEnd).attr("width",x(bandEdges[i+1])-x(bandEdges[i])+.2).attr("height",c.B-c.barEnd).attr("fill",col);
    });
    g.selectAll(".hit").data(c.hits).join("line").attr("x1",d=>x(d)).attr("x2",d=>x(d)).attr("y1",c.sep+1).attr("y2",c.barEnd).attr("stroke","#000").attr("stroke-width",c.bw).attr("stroke-opacity",c.op);
    g.selectAll(".hit2").data(c.hits).join("line").attr("x1",d=>x(d)).attr("x2",d=>x(d)).attr("y1",c.barEnd).attr("y2",c.B).attr("stroke","#000").attr("stroke-width",1).attr("stroke-opacity",.1);
    g.append("line").attr("x1",c.L).attr("x2",c.R).attr("y1",y(0)).attr("y2",y(0)).attr("stroke",c.line).attr("stroke-width",c.line==="#bbb"?1.5:.8);
    g.append("line").attr("x1",c.L).attr("x2",c.R).attr("y1",c.sep).attr("y2",c.sep).attr("stroke","#ddd").attr("stroke-width",.8);
    const line=d3.line().x((d,i)=>x(c.rank[i])).y(d=>y(d));
    g.append("path").attr("d",line(c.es)).attr("fill","none").attr("stroke","#86ef3c").attr("stroke-width",1);
    g.append("rect").attr("x",c.L).attr("y",c.T).attr("width",c.R-c.L).attr("height",c.B-c.T).attr("fill","none").attr("stroke","#a3a3a3").attr("stroke-width",1.1);
    const ay=svg.append("g").attr("transform",`translate(${c.L},0)`).call(d3.axisLeft(y).tickValues(c.ticks).tickFormat(d3.format(".2f")).tickSize(0).tickPadding(4));
    ay.select(".domain").remove();
    ay.selectAll("text").attr("font-size",8.8).style("font-family","Liberation Sans");
    label("Enrichment score",c.labX,c.labY,{size:8.6,rotate:true});
    const q=label("",c.qx,c.qy,{size:10.5,anchor:"end"});
    q.append("tspan").attr("font-style","italic").text("q");q.append("tspan").text(" = "+c.q);
    label("NES = "+c.nes,c.qx,c.qy+12,{size:10.5,anchor:"end"});
  });
  label("Exhaustion signature",444.7,337,{size:10});
  label("(up genes)",444.7,349,{size:10});
  label("Exhaustion signature",672.5,337,{size:10});
  label("(down genes)",672.5,349,{size:10});
  [[444.7,"T","RM"," signature (up genes)"],[672.5,"T","RM"," signature (down genes)"]].forEach(d=>{
    const t=label("",d[0],500,{size:10});
    t.append("tspan").text(d[1]);
    t.append("tspan").attr("font-size",7.5).attr("dy",2.5).text(d[2]);
    t.append("tspan").attr("dy",-2.5).text(d[3]);
  });
})();

// ---- panel e
(function(){
  const lefts=[63.3,215.7,368.3,520,672.7];
  const w=102.4;
  const rows=[{bottom:776,top:640.3,title:640,tickY:8.5},{bottom:948.3,top:812.7,title:814,tickY:5.6}];
  geneData.forEach((series,i)=>{
    const col=i%5,row=Math.floor(i/5);
    const left=lefts[col],rw=rows[row];
    const x=d3.scalePoint().domain(exprSamples).range([left,left+w]).padding(.5);
    const y=d3.scaleLinear().domain([0,geneMax[i]]).range([rw.bottom,rw.top]);
    const g=svg.append("g");
    const line=d3.line().x((d,k)=>x(exprSamples[k])).y(d=>y(d));
    series.forEach((s,j)=>{
      g.append("path").attr("d",line(s)).attr("fill","none").attr("stroke","#1a1a1a").attr("stroke-width",.9);
      s.forEach((v,k)=>placeSym(g,shapes[j],x(exprSamples[k]),y(v),shapes[j]==="diamond"?21:shapes[j]==="square"?42:shapes[j]==="circle"?36:32,"#000"));
    });
    const ax=svg.append("g").attr("transform",`translate(0,${rw.bottom})`).call(d3.axisBottom(x).tickSize(4).tickSizeOuter(0));
    const ay=svg.append("g").attr("transform",`translate(${left},0)`).call(d3.axisLeft(y).tickValues(geneTicks[i]).tickFormat(d3.format("d")).tickSize(4).tickSizeOuter(0));
    [ax,ay].forEach(a=>a.selectAll("text").attr("font-size",12.3).style("font-family","Liberation Sans"));
    ax.selectAll("text").attr("y",rw.tickY);
    const c=row===0?"#2a4bf0":"#f7941d";
    geneNames[i].forEach((t,k)=>label(t,x("SP"),rw.title+k*14,{size:11.6,italic:true,fill:c}));
  });
  label("Expression (×100)",28,708,{size:12.3,rotate:true});
  label("Expression (×100)",28,880,{size:12.3,rotate:true});
})();
</script>
</body></html>
